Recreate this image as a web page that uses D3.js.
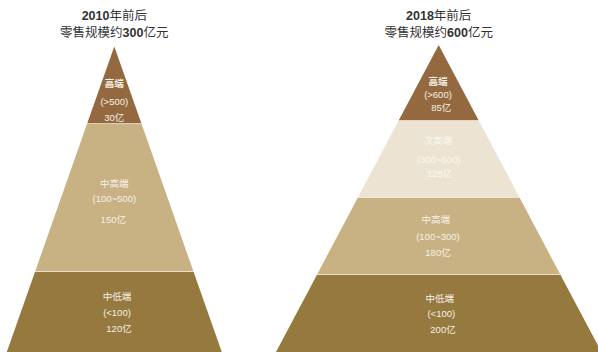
<!DOCTYPE html>
<html>
<head>
<meta charset="utf-8">
<script src="https://cdn.jsdelivr.net/npm/d3@7/dist/d3.min.js"></script>
<style>
  html, body { margin: 0; padding: 0; background: #fff; }
  svg { display: block; }
  text { font-family: "Liberation Sans", "Noto Sans CJK SC", sans-serif; }
</style>
</head>
<body>
<svg id="chart" width="598" height="352"></svg>
<script>
// Market tiers, price brackets (yuan) and retail sales (亿元)
const titles2010 = ["2010年前后", "零售规模约300亿元"];
const tiers2010 = ["高端", "中高端", "中低端"];
const ranges2010 = ["(>500)", "(100~500)", "(<100)"];
const sales2010 = [30, 150, 120];

const titles2018 = ["2018年前后", "零售规模约600亿元"];
const tiers2018 = ["高端", "次高端", "中高端", "中低端"];
const ranges2018 = ["(>600)", "(300~600)", "(100~300)", "(<100)"];
const sales2018 = [85, 125, 180, 200];

// Tier fills, top to bottom
const fills2010 = ["#94693F", "#C8B183", "#95793F"];
const fills2018 = ["#94693F", "#ECE3D3", "#C8B183", "#95793F"];

// Pyramid geometry: tier boundaries as fractions of the pyramid height
const geo2010 = { cx: 114.3, apexY: 46.5, baseY: 352, baseHalf: 107.5, breaks: [0, 0.254, 0.738, 1] };
const geo2018 = { cx: 438.7, apexY: 45, baseY: 352, baseHalf: 162.7, breaks: [0, 0.2476, 0.4984, 0.749, 1] };

// Label line placement inside each tier: [dy from tier top, dx from centre] per line
const labelPos2010 = [
  [[37.5, 0], [55.2, 0], [71.2, 0]],
  [[59.3, 0], [74.3, 0], [95.3, -1]],
  [[24.7, 2.7], [40.3, 2.7], [57, 4.7]]
];
const labelPos2018 = [
  [[36.7, -0.7], [49.3, -0.7], [62.3, 2.6]],
  [[19.7, -0.7], [39, 0], [53, 1]],
  [[22, -3], [38.7, -0.7], [54.7, -0.7]],
  [[23.3, 1], [39, 2.6], [55, 4.3]]
];

const svg = d3.select("#chart");

function drawPyramid(titleLines, tiers, ranges, sales, fills, geo, labelPos) {
  const y = d3.scaleLinear().domain([0, 1]).range([geo.apexY, geo.baseY]);
  const half = d3.scaleLinear().domain([0, 1]).range([0, geo.baseHalf]);
  const cx = geo.cx;

  const rows = tiers.map((t, i) => ({
    tier: t,
    range: ranges[i],
    value: sales[i],
    fill: fills[i],
    t0: geo.breaks[i],
    t1: geo.breaks[i + 1],
    pos: labelPos[i],
    idx: i
  }));

  const g = svg.append("g");

  // Title
  const title = g.append("g").attr("class", "title");
  titleLines.forEach((line, li) => {
    const txt = title.append("text")
      .attr("x", cx)
      .attr("y", li === 0 ? 20 : 36.5)
      .attr("text-anchor", "middle")
      .attr("fill", "#333")
      .style("font-size", "12.5px");
    line.split(/(\d+)/).filter(s => s.length).forEach(part => {
      txt.append("tspan")
        .style("font-weight", /\d/.test(part) ? "bold" : "normal")
        .text(part);
    });
  });

  // Tier bands
  const line = d3.line();
  g.selectAll("path.band")
    .data(rows)
    .join("path")
    .attr("class", "band")
    .attr("fill", d => d.fill)
    .attr("d", d => line([
      [cx - half(d.t0), y(d.t0)],
      [cx + half(d.t0), y(d.t0)],
      [cx + half(d.t1), y(d.t1)],
      [cx - half(d.t1), y(d.t1)]
    ]) + "Z");

  // Thin light dividers between tiers
  g.selectAll("line.divider")
    .data(rows.slice(1))
    .join("line")
    .attr("class", "divider")
    .attr("x1", d => cx - half(d.t0))
    .attr("x2", d => cx + half(d.t0))
    .attr("y1", d => y(d.t0) - 0.5)
    .attr("y2", d => y(d.t0) - 0.5)
    .attr("stroke", "#F1E9DA")
    .attr("stroke-opacity", 0.85)
    .attr("stroke-width", 1);

  // Tier labels
  const labels = g.selectAll("g.label")
    .data(rows)
    .join("g")
    .attr("class", "label");

  labels.each(function (d) {
    const sel = d3.select(this);
    const color = d.fill === "#ECE3D3" ? "#FBF8F2" : "#F6F1E7";
    const texts = [d.tier, d.range, d.value + "亿"];
    texts.forEach((s, k) => {
      sel.append("text")
        .attr("x", cx + d.pos[k][1])
        .attr("y", y(d.t0) + d.pos[k][0])
        .attr("dy", "0.35em")
        .attr("text-anchor", "middle")
        .attr("fill", color)
        .style("font-size", "9.5px")
        .style("font-weight", k === 0 && d.idx === 0 ? "bold" : "normal")
        .text(s);
    });
  });
}

drawPyramid(titles2010, tiers2010, ranges2010, sales2010, fills2010, geo2010, labelPos2010);
drawPyramid(titles2018, tiers2018, ranges2018, sales2018, fills2018, geo2018, labelPos2018);
</script>
</body>
</html>
